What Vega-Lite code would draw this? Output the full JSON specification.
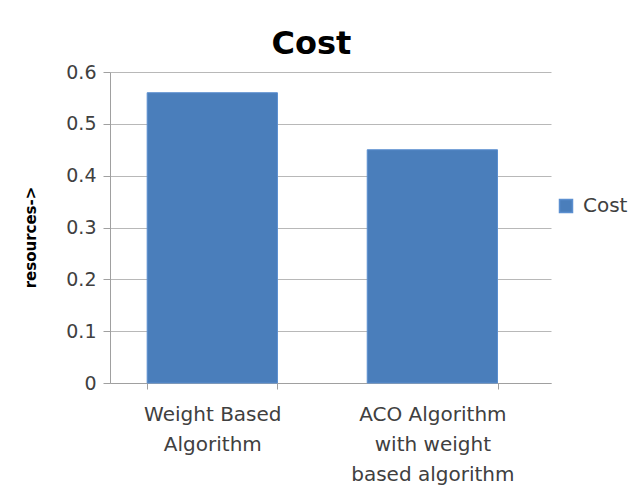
{
  "$schema": "https://vega.github.io/schema/vega-lite/v6.json",
  "autosize": {"type": "none"},
  "width": 441,
  "height": 311,
  "padding": {"left": 110, "top": 72, "right": 84, "bottom": 107},
  "background": "white",
  "title": {
    "text": "Cost",
    "font": "DejaVu Sans",
    "fontSize": 32,
    "fontWeight": "bold",
    "color": "#000000",
    "anchor": "middle",
    "offset": 2,
    "dx": -19
  },
  "data": {
    "values": [
      {"algorithm": "Weight Based Algorithm", "series": "Cost", "cost": 0.56},
      {"algorithm": "ACO Algorithm with weight based algorithm", "series": "Cost", "cost": 0.45}
    ]
  },
  "mark": {"type": "bar", "stroke": "#5b8fd0", "strokeWidth": 1},
  "encoding": {
    "x": {
      "field": "algorithm",
      "type": "nominal",
      "sort": null,
      "scale": {"paddingInner": 0.408, "paddingOuter": 0.206, "align": 0.41},
      "axis": {
        "title": null,
        "labelAngle": 0,
        "tickBand": "extent",
        "labelExpr": "datum.value == 'Weight Based Algorithm' ? ['Weight Based', 'Algorithm'] : datum.value == 'ACO Algorithm with weight based algorithm' ? ['ACO Algorithm', 'with weight', 'based algorithm'] : ''",
        "labelFont": "DejaVu Sans",
        "labelFontSize": 20,
        "labelColor": "#404040",
        "labelLineHeight": 30,
        "labelPadding": 15,
        "domainColor": "#a0a0a0",
        "tickColor": "#a0a0a0",
        "tickSize": 6
      }
    },
    "y": {
      "field": "cost",
      "type": "quantitative",
      "scale": {"domain": [0, 0.6], "nice": false},
      "axis": {
        "title": "resources->",
        "titleFont": "DejaVu Sans",
        "titleFontSize": 15,
        "titleFontWeight": "bold",
        "titleColor": "#000000",
        "titleX": -80,
        "titleY": 165,
        "titleAlign": "center",
        "titleBaseline": "middle",
        "values": [0, 0.1, 0.2, 0.3, 0.4, 0.5, 0.6],
        "labelExpr": "datum.value == 0 ? '0' : format(datum.value, '.1f')",
        "labelFont": "DejaVu Sans",
        "labelFontSize": 19,
        "labelColor": "#404040",
        "labelPadding": 7,
        "grid": true,
        "gridColor": "#b8b8b8",
        "domainColor": "#a0a0a0",
        "tickColor": "#a0a0a0",
        "tickSize": 7
      }
    },
    "color": {
      "field": "series",
      "type": "nominal",
      "scale": {"range": ["#4a7ebb"]},
      "legend": {
        "title": null,
        "orient": "none",
        "legendX": 446,
        "legendY": 124,
        "symbolType": "square",
        "symbolSize": 169,
        "labelOffset": 7,
        "labelFont": "DejaVu Sans",
        "labelFontSize": 20,
        "labelColor": "#404040"
      }
    }
  },
  "config": {"view": {"stroke": null}}
}
